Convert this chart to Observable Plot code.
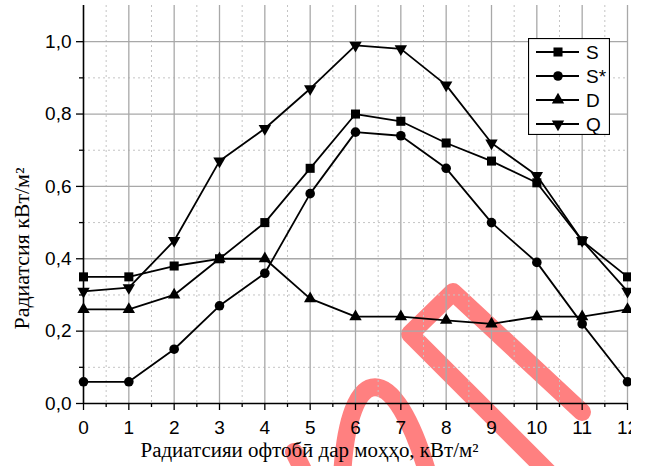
<!DOCTYPE html>
<html><head><meta charset="utf-8">
<script src="https://cdn.jsdelivr.net/npm/d3@7"></script>
<script src="https://cdn.jsdelivr.net/npm/@observablehq/plot@0.6"></script>
<style>
html,body{margin:0;padding:0;background:#fff;}
#wrap{position:relative;width:645px;height:466px;overflow:hidden;background:#fff;}
#wm{position:absolute;left:0;top:0;}
#clip{position:absolute;left:0;top:0;width:631px;height:466px;overflow:hidden;}
#clip svg{max-width:none !important;}
#legend{position:absolute;left:528px;top:38px;}
</style></head><body>
<div id="wrap">
<svg id="wm" width="645" height="466" aria-hidden="true">
  <g fill="none" stroke="#ff8080" stroke-width="18" stroke-linecap="round" stroke-linejoin="round">
    <path d="M582 412 L453 292 L410 334 L548 472"/>
    <path d="M342 478 C348 357 395 357 429 478"/>
    <path d="M294 452 L308 480"/>
  </g>
</svg>
<div id="clip"></div>
<div id="legend"></div>
</div>
<script>
// ---- data ----
const months = [0, 1, 2, 3, 4, 5, 6, 7, 8, 9, 10, 11, 12];
const seriesNames = ["S", "S*", "D", "Q"];
const S     = [0.35, 0.35, 0.38, 0.40, 0.50, 0.65, 0.80, 0.78, 0.72, 0.67, 0.61, 0.45, 0.35];
const Sstar = [0.06, 0.06, 0.15, 0.27, 0.36, 0.58, 0.75, 0.74, 0.65, 0.50, 0.39, 0.22, 0.06];
const D     = [0.26, 0.26, 0.30, 0.40, 0.40, 0.29, 0.24, 0.24, 0.23, 0.22, 0.24, 0.24, 0.26];
const Q     = [0.31, 0.32, 0.45, 0.67, 0.76, 0.87, 0.99, 0.98, 0.88, 0.72, 0.63, 0.45, 0.31];
const xTicks = [0, 1, 2, 3, 4, 5, 6, 7, 8, 9, 10, 11, 12];
const xMinorTicks = [0.5, 1.5, 2.5, 3.5, 4.5, 5.5, 6.5, 7.5, 8.5, 9.5, 10.5, 11.5];
const yTicks = [0, 0.2, 0.4, 0.6, 0.8, 1.0];
const yMinorTicks = [0.1, 0.3, 0.5, 0.7, 0.9];
const xTitle = "Радиатсияи офтобӣ дар моҳҳо, кВт/м²";
const yTitle = "Радиатсия кВт/м²";

const seriesValues = [S, Sstar, D, Q];
const symbols = ["square", "circle", "triangle", "triangle"];
const rotations = [0, 0, 0, 180];
const radii = [5.1, 4.8, 4.6, 4.6];

const rows = (vals) => months.map((m, i) => ({x: m, y: vals[i]}));

const sans = "Liberation Sans, Arial, sans-serif";
const serif = "Liberation Serif, Times New Roman, serif";

const marks = [
  Plot.gridX(xMinorTicks, {stroke: "#c4c4c4", strokeOpacity: 1, strokeDasharray: "2,3"}),
  Plot.gridY(yMinorTicks, {stroke: "#c4c4c4", strokeOpacity: 1, strokeDasharray: "2,3"}),
  Plot.gridX(xTicks.slice(1), {stroke: "#a8a8a8", strokeOpacity: 1, strokeWidth: 1.3}),
  Plot.gridY(yTicks.slice(1), {stroke: "#a8a8a8", strokeOpacity: 1, strokeWidth: 1.3}),
  Plot.axisX(xMinorTicks, {tickSize: 4, text: null, label: null, stroke: "black", strokeWidth: 1.3}),
  Plot.axisY(yMinorTicks, {tickSize: 4, text: null, label: null, stroke: "black", strokeWidth: 1.3}),
  Plot.axisX(xTicks, {tickSize: 7, tickPadding: 10, stroke: "black", strokeWidth: 1.3, fill: "black",
    fontSize: 19, fontFamily: sans, label: null, tickFormat: d => String(d)}),
  Plot.axisY(yTicks, {tickSize: 7, tickPadding: 5, stroke: "black", strokeWidth: 1.3, fill: "black",
    fontSize: 19, fontFamily: sans, label: null, tickFormat: d => d.toFixed(1).replace(".", ",")}),
  Plot.ruleX([0], {stroke: "black", strokeWidth: 1.6}),
  Plot.ruleY([0], {stroke: "black", strokeWidth: 1.6})
];
seriesValues.forEach((vals, k) => {
  marks.push(Plot.line(rows(vals), {x: "x", y: "y", stroke: "black", strokeWidth: 1.8}));
  marks.push(Plot.dot(rows(vals), {x: "x", y: "y", symbol: symbols[k], r: radii[k], rotate: rotations[k], fill: "black", stroke: "none"}));
});
marks.push(Plot.text([xTitle], {text: d => d, frameAnchor: "bottom", textAnchor: "middle", lineAnchor: "bottom",
  dx: -46, dy: 53, fontFamily: serif, fontSize: 20, fill: "black", className: "xtitle"}));
marks.push(Plot.text([yTitle], {text: d => d, frameAnchor: "left", textAnchor: "middle", lineAnchor: "bottom",
  rotate: -90, dx: -55, dy: 44, fontFamily: serif, fontSize: 20, fill: "black", className: "ytitle"}));

const chart = Plot.plot({
  width: 645,
  height: 466,
  marginLeft: 83,
  marginRight: 18,
  marginTop: 5,
  marginBottom: 63,
  style: {background: "transparent", overflow: "visible", color: "black", maxWidth: "none"},
  x: {domain: [0, 12], axis: null},
  y: {domain: [0, 1.1], axis: null},
  marks
});
document.getElementById("clip").appendChild(chart);
// stretch the titles to the reference's text widths
d3.select(chart).selectAll(".xtitle text").attr("textLength", 338).attr("lengthAdjust", "spacingAndGlyphs");
d3.select(chart).selectAll(".ytitle text").attr("textLength", 162).attr("lengthAdjust", "spacingAndGlyphs");

// ---- legend ----
const lw = 82, lh = 97, rowY = [14, 38, 62, 86];
const lg = d3.select("#legend").append("svg").attr("width", lw).attr("height", lh);
lg.append("rect").attr("x", 0.5).attr("y", 0.5).attr("width", lw - 1).attr("height", lh - 1)
  .attr("fill", "white").attr("stroke", "black").attr("stroke-width", 1.2);
const symMap = {square: d3.symbolSquare, circle: d3.symbolCircle, triangle: d3.symbolTriangle};
seriesNames.forEach((name, k) => {
  const g = lg.append("g").attr("transform", `translate(0,${rowY[k]})`);
  g.append("line").attr("x1", 8).attr("x2", 51).attr("y1", 0).attr("y2", 0).attr("stroke", "black").attr("stroke-width", 1.8);
  g.append("path").attr("d", d3.symbol(symMap[symbols[k]], radii[k] * radii[k] * Math.PI)())
    .attr("transform", `translate(30,0) rotate(${rotations[k]})`).attr("fill", "black");
  g.append("text").attr("x", 58).attr("y", 0).attr("dy", "0.36em").attr("font-family", sans).attr("font-size", 19).text(name);
});
</script>
</body></html>
